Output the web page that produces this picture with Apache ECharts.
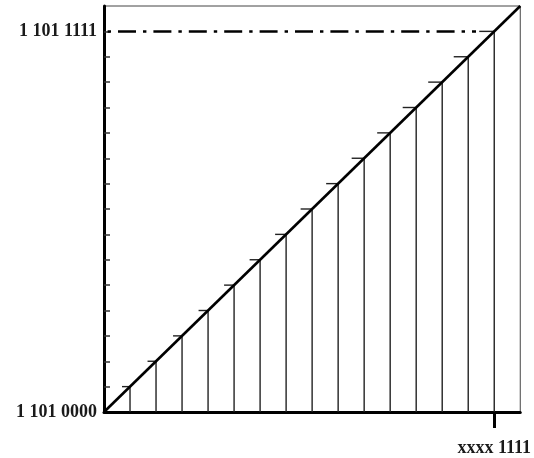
<!DOCTYPE html>
<html>
<head>
<meta charset="utf-8">
<style>
  html, body { margin: 0; padding: 0; background: #fff; }
  #chart { width: 534px; height: 458px; }
</style>
<script src="https://cdn.jsdelivr.net/npm/echarts@6/dist/echarts.min.js"></script>
</head>
<body>
<div id="chart"></div>
<script>
// ---- data ----
var stemX = [1, 2, 3, 4, 5, 6, 7, 8, 9, 10, 11, 12, 13, 14, 15];
var stemY = [1, 2, 3, 4, 5, 6, 7, 8, 9, 10, 11, 12, 13, 14, 15];
var diagonalX = [0, 16];
var diagonalY = [0, 16];
var refLineX = [0, 14.3];
var refLineY = [15, 15];
var yTickValues = [1, 2, 3, 4, 5, 6, 7, 8, 9, 10, 11, 12, 13, 14, 15];
var yLabelValues = [0, 15];
var yLabelTexts = ['1 101 0000', '1 101 1111'];
var xLabelValues = [15];
var xLabelTexts = ['xxxx 1111'];
var axisMin = 0, axisMax = 16;

// ---- chart ----
var chart = echarts.init(document.getElementById('chart'), null, { renderer: 'canvas' });
var FONT = 'Liberation Serif';

function pairs(xs, ys) { return xs.map(function (x, i) { return [x, ys[i]]; }); }

var option = {
  animation: false,
  backgroundColor: '#fff',
  grid: {
    left: 104, right: 10, top: 6, bottom: 46,
    show: true, borderColor: '#444', borderWidth: 1, backgroundColor: 'transparent'
  },
  xAxis: {
    type: 'value', min: axisMin, max: axisMax,
    splitLine: { show: false },
    axisLine: { show: true, onZero: false, lineStyle: { color: '#000', width: 3 } },
    axisTick: { show: true, customValues: xLabelValues, length: 16, inside: false,
      lineStyle: { color: '#000', width: 3 } },
    axisLabel: {
      show: true, customValues: xLabelValues, margin: 27,
      fontFamily: FONT, fontWeight: 'bold', fontSize: 18, color: '#1a1a1a',
      formatter: function (v) { var i = xLabelValues.indexOf(v); return i >= 0 ? xLabelTexts[i] : ''; }
    }
  },
  yAxis: {
    type: 'value', min: axisMin, max: axisMax,
    splitLine: { show: false },
    axisLine: { show: true, onZero: false, lineStyle: { color: '#000', width: 3 } },
    axisTick: { show: true, customValues: yTickValues, length: 6, inside: true,
      lineStyle: { color: '#333', width: 1.5 } },
    axisLabel: {
      show: true, customValues: yLabelValues, margin: 7,
      fontFamily: FONT, fontWeight: 'bold', fontSize: 18, color: '#1a1a1a',
      formatter: function (v) { var i = yLabelValues.indexOf(v); return i >= 0 ? yLabelTexts[i] : ''; }
    }
  },
  series: [
    {
      type: 'custom',
      data: pairs(stemX, stemY),
      clip: false,
      z: 2,
      renderItem: function (params, api) {
        var x = api.value(0), y = api.value(1);
        var p0 = api.coord([x, 0]);
        var p1 = api.coord([x, y]);
        var capLen = 7.5 + 0.5 * x;
        var style = { stroke: '#222', lineWidth: 1.4 };
        return {
          type: 'group',
          children: [
            { type: 'line', shape: { x1: p0[0], y1: p0[1], x2: p1[0], y2: p1[1] }, style: style },
            { type: 'line', shape: { x1: p1[0] - capLen, y1: p1[1], x2: p1[0], y2: p1[1] }, style: style }
          ]
        };
      }
    },
    {
      type: 'line',
      data: pairs(diagonalX, diagonalY),
      symbol: 'none',
      z: 3,
      lineStyle: { color: '#000', width: 2.6 }
    },
    {
      type: 'line',
      data: pairs(refLineX, refLineY),
      symbol: 'none',
      z: 3,
      lineStyle: { color: '#000', width: 2.5, type: [18, 7, 3.4, 7], dashOffset: 21.4 }
    }
  ]
};
chart.setOption(option);
</script>
</body>
</html>
